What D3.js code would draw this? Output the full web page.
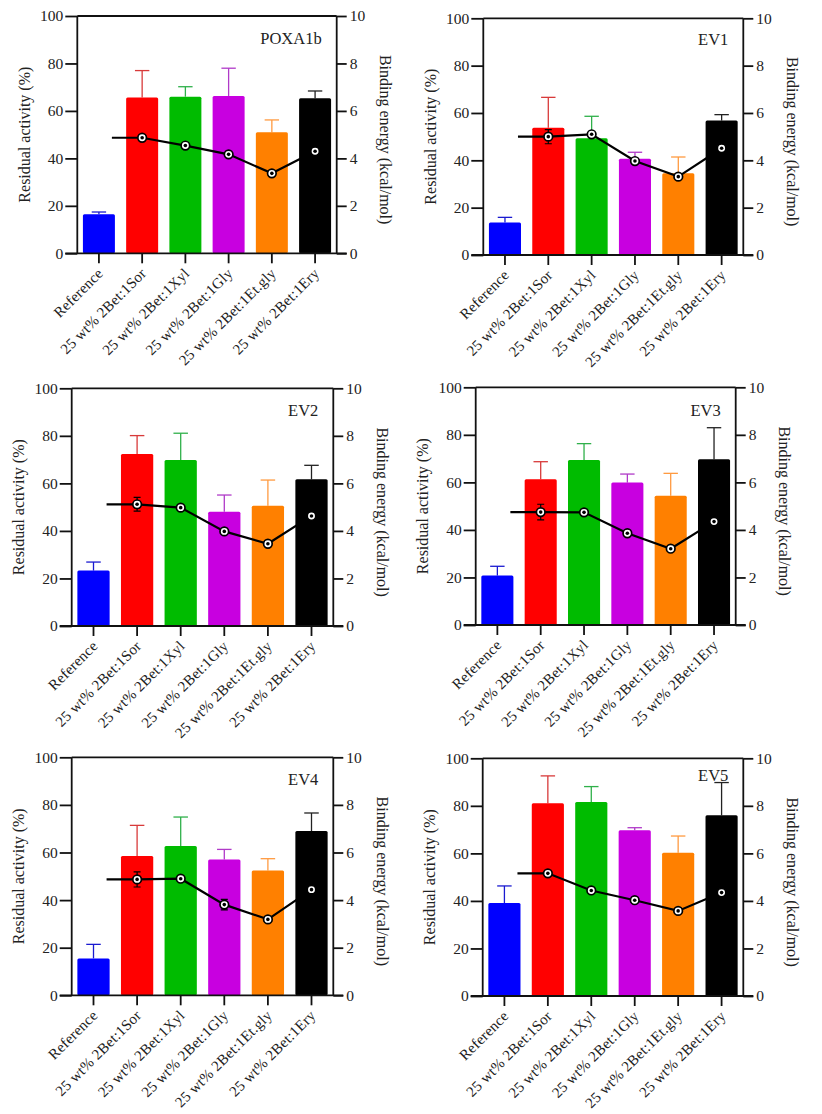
<!DOCTYPE html>
<html>
<head>
<meta charset="utf-8">
<script src="https://cdn.jsdelivr.net/npm/d3@7"></script>
<style>
  html, body { margin: 0; padding: 0; background: #fff; }
  svg { display: block; }
  text { font-family: "Liberation Serif", "Times New Roman", serif; fill: #222; }
</style>
</head>
<body>
<svg id="chart" width="822" height="1114"></svg>
<script>
// ---------- data ----------
const categories = ["Reference", "25 wt% 2Bet:1Sor", "25 wt% 2Bet:1Xyl", "25 wt% 2Bet:1Gly", "25 wt% 2Bet:1Et.gly", "25 wt% 2Bet:1Ery"];
const panelTitles = ["POXA1b", "EV1", "EV2", "EV3", "EV4", "EV5"];
const activityTicks = [0, 20, 40, 60, 80, 100];
const energyTicks = [0, 2, 4, 6, 8, 10];

// residual activity (%) per panel, per category
const activityPOXA1b = [16.5, 65.7, 66.0, 66.3, 51.0, 65.3];
const activityEV1    = [13.7, 53.8, 49.3, 40.7, 34.5, 56.8];
const activityEV2    = [23.3, 72.4, 69.8, 48.1, 50.6, 61.7];
const activityEV3    = [20.8, 61.3, 69.4, 59.9, 54.4, 69.7];
const activityEV4    = [15.5, 58.5, 62.7, 57.1, 52.4, 69.0];
const activityEV5    = [39.1, 81.1, 81.6, 69.7, 60.3, 76.0];

// upper error (SD) of residual activity
const activityErrPOXA1b = [0.9, 11.3, 4.2, 11.7, 5.2, 3.1];
const activityErrEV1    = [2.2, 12.8, 9.3, 2.7, 6.9, 2.5];
const activityErrEV2    = [3.6, 7.7, 11.3, 7.0, 10.8, 5.9];
const activityErrEV3    = [3.9, 7.4, 6.9, 3.6, 9.4, 13.3];
const activityErrEV4    = [5.9, 12.9, 12.2, 4.2, 5.0, 7.6];
const activityErrEV5    = [7.2, 11.5, 6.5, 1.1, 7.0, 13.8];

// binding energy (kcal/mol); Reference has no value
const energyPOXA1b = [null, 4.87, 4.54, 4.17, 3.37, 4.30];
const energyEV1    = [null, 5.00, 5.10, 3.97, 3.31, 4.51];
const energyEV2    = [null, 5.12, 4.98, 3.98, 3.46, 4.63];
const energyEV3    = [null, 4.75, 4.74, 3.86, 3.21, 4.35];
const energyEV4    = [null, 4.87, 4.90, 3.81, 3.19, 4.44];
const energyEV5    = [null, 5.16, 4.44, 4.03, 3.58, 4.35];

const energyErrPOXA1b = [0, 0, 0, 0, 0, 0];
const energyErrEV1    = [0, 0.30, 0, 0, 0, 0];
const energyErrEV2    = [0, 0.29, 0, 0, 0, 0];
const energyErrEV3    = [0, 0.33, 0, 0, 0, 0];
const energyErrEV4    = [0, 0.32, 0, 0.22, 0, 0];
const energyErrEV5    = [0, 0, 0, 0, 0, 0];

const activityAll = [activityPOXA1b, activityEV1, activityEV2, activityEV3, activityEV4, activityEV5];
const activityErrAll = [activityErrPOXA1b, activityErrEV1, activityErrEV2, activityErrEV3, activityErrEV4, activityErrEV5];
const energyAll = [energyPOXA1b, energyEV1, energyEV2, energyEV3, energyEV4, energyEV5];
const energyErrAll = [energyErrPOXA1b, energyErrEV1, energyErrEV2, energyErrEV3, energyErrEV4, energyErrEV5];

// ---------- styling / layout ----------
const barColors = ["#0000ff", "#ff0000", "#00bb00", "#c800e0", "#ff8000", "#000000"];
const errColors = ["#1a1ad0", "#d83a3a", "#2fb04a", "#b03ac8", "#ff9a40", "#222222"];
const panelBoxes = [
  {left: 77.3, right: 336.7, top: 16.0, bottom: 253.3},
  {left: 483.3, right: 743.3, top: 18.3, bottom: 255.0},
  {left: 71.7, right: 333.3, top: 388.3, bottom: 626.0},
  {left: 475.7, right: 735.7, top: 387.3, bottom: 625.0},
  {left: 71.7, right: 333.3, top: 757.3, bottom: 995.3},
  {left: 482.7, right: 743.3, top: 758.3, bottom: 996.0}
];
const titleDy = [28, 27, 28, 29, 28, 23];

const svg = d3.select("#chart");

panelBoxes.forEach((box, p) => {
  const g = svg.append("g");
  const x = d3.scaleBand().domain(categories).range([box.left, box.right]).paddingInner(0.26).paddingOuter(0.13);
  const y = d3.scaleLinear().domain([0, 100]).range([box.bottom, box.top]);
  const y2 = d3.scaleLinear().domain([0, 10]).range([box.bottom, box.top]);
  const acts = activityAll[p], aerr = activityErrAll[p], en = energyAll[p], eerr = energyErrAll[p];

  // error bars (activity, upward only)
  const capW = x.bandwidth() * 0.45;
  categories.forEach((c, i) => {
    const cx = x(c) + x.bandwidth() / 2;
    g.append("line").attr("x1", cx).attr("x2", cx)
      .attr("y1", y(acts[i])).attr("y2", y(acts[i] + aerr[i]))
      .attr("stroke", errColors[i]).attr("stroke-width", 1.3);
    g.append("line").attr("x1", cx - capW / 2).attr("x2", cx + capW / 2)
      .attr("y1", y(acts[i] + aerr[i])).attr("y2", y(acts[i] + aerr[i]))
      .attr("stroke", errColors[i]).attr("stroke-width", 1.3);
  });

  // bars
  g.selectAll("rect.bar").data(categories).join("rect")
    .attr("class", "bar")
    .attr("x", c => x(c)).attr("width", x.bandwidth())
    .attr("y", (c, i) => y(acts[i])).attr("height", (c, i) => y(0) - y(acts[i]))
    .attr("rx", 1.5)
    .attr("fill", (c, i) => barColors[i]);

  // axes
  const axL = g.append("g").attr("transform", `translate(${box.left},0)`)
    .call(d3.axisLeft(y).tickValues(activityTicks).tickSize(12).tickPadding(2));
  const axR = g.append("g").attr("transform", `translate(${box.right},0)`)
    .call(d3.axisRight(y2).tickValues(energyTicks).tickSize(10).tickPadding(3));
  const axB = g.append("g").attr("transform", `translate(0,${box.bottom})`)
    .call(d3.axisBottom(x).tickSize(10).tickSizeOuter(0));
  [axL, axR, axB].forEach(a => {
    a.attr("font-family", null);
    a.select(".domain").attr("stroke", "#111").attr("stroke-width", 1.8);
    a.selectAll(".tick line").attr("stroke", "#111").attr("stroke-width", 1.8);
    a.selectAll("text").style("font-family", '"Liberation Serif", serif').style("font-size", "15.5px").attr("fill", "#333");
  });
  axL.select(".domain").attr("d", `M0,${box.top}V${box.bottom}`);
  axR.select(".domain").attr("d", `M0,${box.top}V${box.bottom}`);
  axB.select(".domain").attr("d", `M${box.left - 12},0H${box.right + 10}`);
  // top frame line
  g.append("line").attr("x1", box.left).attr("x2", box.right).attr("y1", box.top).attr("y2", box.top)
    .attr("stroke", "#111").attr("stroke-width", 1.8);

  // rotated category labels
  axB.selectAll(".tick text")
    .style("font-size", "15px")
    .style("letter-spacing", "0.2px")
    .attr("text-anchor", "end")
    .attr("dy", null).attr("y", null)
    .attr("transform", "translate(5,21) rotate(-45)");

  // energy line
  const pts = categories.map((c, i) => ({x: x(c) + x.bandwidth() / 2, v: en[i], e: eerr[i]})).filter(d => d.v !== null);
  const startX = x(categories[0]) + x.bandwidth() / 2 + x.step() * 0.3;
  const linePts = [{x: startX, v: pts[0].v}].concat(pts);
  g.append("path")
    .attr("d", d3.line().x(d => d.x).y(d => y2(d.v))(linePts))
    .attr("fill", "none").attr("stroke", "#000").attr("stroke-width", 2.2);
  pts.filter(d => d.e > 0).forEach(d => {
    g.append("path")
      .attr("d", `M${d.x - 3.5},${y2(d.v + d.e)}H${d.x + 3.5}M${d.x},${y2(d.v + d.e)}V${y2(d.v - d.e)}M${d.x - 3.5},${y2(d.v - d.e)}H${d.x + 3.5}`)
      .attr("stroke", "#000").attr("stroke-width", 1.2).attr("fill", "none");
  });
  g.selectAll("circle.mk").data(pts).join("circle").attr("class", "mk")
    .attr("cx", d => d.x).attr("cy", d => y2(d.v)).attr("r", 4.3)
    .attr("fill", "#fff").attr("stroke", "#000").attr("stroke-width", 1.7);
  g.selectAll("circle.dot").data(pts).join("circle").attr("class", "dot")
    .attr("cx", d => d.x).attr("cy", d => y2(d.v)).attr("r", 1.8).attr("fill", "#000");

  // titles
  g.append("text").attr("x", box.right - 15).attr("y", box.top + titleDy[p])
    .attr("text-anchor", "end").style("font-size", "16.5px").text(panelTitles[p]);
  const midY = (box.top + box.bottom) / 2;
  g.append("text").attr("transform", `translate(${box.left - 53},${midY}) rotate(-90)`)
    .attr("text-anchor", "middle").attr("dominant-baseline", "central")
    .style("font-size", "16px").attr("fill", "#333").text("Residual activity (%)");
  g.append("text").attr("transform", `translate(${box.right + 49},${midY + 5}) rotate(90)`)
    .attr("text-anchor", "middle").attr("dominant-baseline", "central")
    .style("font-size", "16px").attr("fill", "#333").text("Binding energy (kcal/mol)");
});
</script>
</body>
</html>
